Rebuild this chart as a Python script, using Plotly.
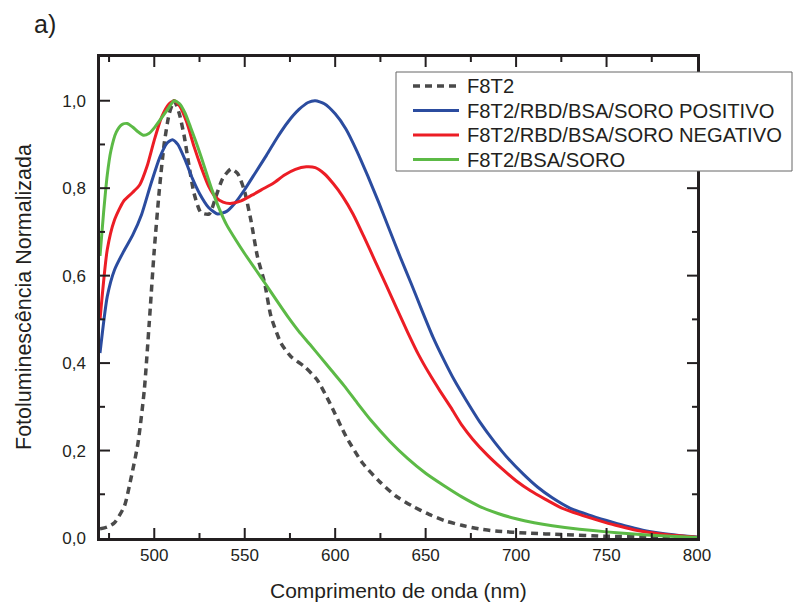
import plotly.graph_objects as go

# Normalized photoluminescence spectra (wavelength in nm, normalized intensity)
f8t2_nm = [470, 474, 478, 483.5, 487, 491, 494.5, 497.2, 500, 502.8, 505.5, 508.3,
           511, 513.8, 516.6, 519.3, 522, 525.8, 530.4, 534, 537.8, 542.4, 546,
           549.7, 553.4, 557, 561, 564.5, 570, 575.5, 583, 590, 597, 605.9, 615,
           624.3, 633.5, 642.7, 651.9, 661, 670, 679.4, 688.6, 707, 725, 750, 775, 800]
f8t2_y = [0.021, 0.025, 0.035, 0.073, 0.134, 0.217, 0.339, 0.491, 0.659, 0.796, 0.902, 0.971,
          1.0, 0.971, 0.918, 0.849, 0.788, 0.744, 0.741, 0.780, 0.822, 0.844, 0.834,
          0.796, 0.727, 0.644, 0.583, 0.507, 0.446, 0.415, 0.392, 0.362, 0.309, 0.233, 0.172,
          0.130, 0.096, 0.073, 0.054, 0.039, 0.029, 0.021, 0.016, 0.011, 0.008, 0.004, 0.002, 0.001]

pos_nm = [470, 474, 478, 483, 488, 493, 498, 503, 507, 510, 513, 517, 521, 525, 530,
          535, 540, 545, 550, 556, 562, 568, 574, 580, 585, 589, 594, 600, 606, 612,
          618, 624, 630, 636, 642, 648, 654, 660, 666, 672, 680, 688, 696, 704, 712,
          720, 730, 740, 750, 760, 770, 780, 790, 800]
pos_y = [0.423, 0.552, 0.613, 0.655, 0.692, 0.740, 0.808, 0.870, 0.903, 0.911, 0.900, 0.865,
         0.823, 0.788, 0.756, 0.741, 0.747, 0.768, 0.797, 0.836, 0.875, 0.916, 0.952, 0.980,
         0.996, 1.0, 0.993, 0.970, 0.935, 0.885, 0.828, 0.768, 0.705, 0.642, 0.582, 0.520,
         0.460, 0.408, 0.360, 0.318, 0.265, 0.220, 0.180, 0.146, 0.116, 0.092, 0.068, 0.053,
         0.040, 0.028, 0.018, 0.011, 0.006, 0.002]

neg_nm = [470, 474, 478, 483, 488, 492, 496, 500, 504, 508, 511, 514, 518, 522, 526,
          530, 534, 538, 542, 548, 554, 560, 566, 572, 578, 584, 589, 594, 599, 604,
          610, 616, 622, 628, 634, 640, 646, 652, 658, 664, 670, 676, 684, 692, 700,
          708, 716, 725, 735, 745, 755, 765, 775, 785, 800]
neg_y = [0.499, 0.659, 0.727, 0.770, 0.790, 0.808, 0.850, 0.910, 0.962, 0.992, 1.0, 0.988,
         0.950, 0.895, 0.847, 0.805, 0.779, 0.768, 0.765, 0.771, 0.784, 0.798, 0.812, 0.830,
         0.843, 0.849, 0.847, 0.833, 0.810, 0.782, 0.740, 0.688, 0.634, 0.580, 0.525, 0.471,
         0.420, 0.376, 0.336, 0.298, 0.258, 0.226, 0.190, 0.159, 0.131, 0.108, 0.089, 0.069,
         0.054, 0.041, 0.029, 0.019, 0.012, 0.007, 0.002]

bsa_nm = [470, 472, 474, 476, 479, 482, 485, 488, 491, 494, 497, 500, 503, 507, 511,
          514, 517, 520, 524, 528, 532, 536, 540, 545, 550, 556, 562, 568, 574, 580,
          586, 592, 598, 605, 612, 620, 630, 640, 650, 660, 670, 680, 690, 700, 710,
          720, 735, 750, 765, 780, 800]
bsa_y = [0.645, 0.745, 0.830, 0.885, 0.928, 0.945, 0.948, 0.940, 0.929, 0.921, 0.925, 0.938,
         0.955, 0.978, 1.0, 0.993, 0.972, 0.940, 0.895, 0.845, 0.795, 0.752, 0.716, 0.682,
         0.650, 0.614, 0.578, 0.541, 0.505, 0.472, 0.443, 0.413, 0.383, 0.348, 0.310, 0.268,
         0.222, 0.182, 0.148, 0.120, 0.094, 0.072, 0.056, 0.044, 0.035, 0.028, 0.020, 0.014,
         0.009, 0.005, 0.001]

series_names = ["F8T2", "F8T2/RBD/BSA/SORO POSITIVO",
                "F8T2/RBD/BSA/SORO NEGATIVO", "F8T2/BSA/SORO"]
series_colors = ["#4a4a4a", "#2b4c9f", "#ec1d25", "#5cba46"]
series_dash = ["7px,5px", "solid", "solid", "solid"]
series_width = [3.5, 3, 3, 3]
series_x = [f8t2_nm, pos_nm, neg_nm, bsa_nm]
series_y = [f8t2_y, pos_y, neg_y, bsa_y]

# Axis ranges and tick positions (frame ticks point into the plot on all four sides)
X_RANGE = [470, 800]
Y_RANGE = [0, 1.1]
x_major = [500, 550, 600, 650, 700, 750]
x_minor = [475, 525, 575, 625, 675, 725, 775]
y_major = [0.2, 0.4, 0.6, 0.8, 1.0]
y_minor = [0.1, 0.3, 0.5, 0.7, 0.9]

W, H = 794, 604
L, R, T, B = 100, 97, 57, 66
PW, PH = W - L - R, H - T - B
TXT = "#231f20"
FONT = "Liberation Sans, Arial, sans-serif"
MAJOR_LEN, MINOR_LEN = 10, 5


def px(xp):
    return (xp - L) / PW


def py(yp):
    return (H - B - yp) / PH


fig = go.Figure()
for name, xs, ys, col, dash, lw in zip(series_names, series_x, series_y,
                                        series_colors, series_dash, series_width):
    fig.add_trace(go.Scatter(x=xs, y=ys, mode="lines", name=name,
                             line=dict(color=col, width=lw, dash=dash,
                                       shape="spline", smoothing=0.6),
                             showlegend=False))

axis_common = dict(showgrid=False, zeroline=False, showline=True, linewidth=2.5,
                   linecolor=TXT, mirror=True, ticks="",
                   tickfont=dict(family=FONT, size=17, color=TXT))
fig.update_xaxes(range=X_RANGE, tickmode="linear", tick0=500, dtick=50, **axis_common)
fig.update_yaxes(range=Y_RANGE, tickmode="linear", tick0=0, dtick=0.2, tickformat=".1f",
                 ticklabelstandoff=8, **axis_common)

shapes = []
tick_line = dict(color=TXT, width=2)
for vals, ln in [(x_major, MAJOR_LEN), (x_minor, MINOR_LEN)]:
    d = ln / PH
    for v in vals:
        shapes.append(dict(type="line", xref="x", yref="y domain", layer="above",
                           x0=v, x1=v, y0=0, y1=d, line=tick_line))
        shapes.append(dict(type="line", xref="x", yref="y domain", layer="above",
                           x0=v, x1=v, y0=1, y1=1 - d, line=tick_line))
for vals, ln in [(y_major, MAJOR_LEN), (y_minor, MINOR_LEN)]:
    d = ln / PW
    for v in vals:
        shapes.append(dict(type="line", xref="x domain", yref="y", layer="above",
                           x0=0, x1=d, y0=v, y1=v, line=tick_line))
        shapes.append(dict(type="line", xref="x domain", yref="y", layer="above",
                           x0=1, x1=1 - d, y0=v, y1=v, line=tick_line))

# Legend box drawn as shapes + text
shapes.append(dict(type="rect", xref="paper", yref="paper", layer="above",
                   x0=px(396), x1=px(792), y0=py(171), y1=py(72),
                   line=dict(color="#666666", width=1), fillcolor="white"))
annotations = []
rows = [86, 110.5, 135, 159.5]
for name, col, dash, lw, ry in zip(series_names, series_colors, series_dash, series_width, rows):
    shapes.append(dict(type="line", xref="paper", yref="paper", layer="above",
                       x0=px(413), x1=px(459), y0=py(ry), y1=py(ry),
                       line=dict(color=col, width=lw, dash=dash)))
    annotations.append(dict(text=name, xref="paper", yref="paper", x=px(465), y=py(ry),
                            xanchor="left", yanchor="middle", showarrow=False,
                            font=dict(family=FONT, size=20.2, color=TXT)))

annotations += [
    dict(text="a)", xref="paper", yref="paper", x=px(45), y=py(24),
         xanchor="center", yanchor="middle", showarrow=False,
         font=dict(family=FONT, size=25, color=TXT)),
    dict(text="Fotoluminescência Normalizada", xref="paper", yref="paper",
         x=px(24), y=py(297), textangle=-90, xanchor="center", yanchor="middle",
         showarrow=False, font=dict(family=FONT, size=21.5, color=TXT)),
    dict(text="Comprimento de onda (nm)", xref="paper", yref="paper",
         x=px(398), y=py(590), xanchor="center", yanchor="middle",
         showarrow=False, font=dict(family=FONT, size=21, color=TXT)),
]

fig.update_layout(width=W, height=H, margin=dict(l=L, r=R, t=T, b=B, autoexpand=False),
                  paper_bgcolor="white", plot_bgcolor="white", separators=",.",
                  shapes=shapes, annotations=annotations, showlegend=False)

fig.write_html("out.html")
